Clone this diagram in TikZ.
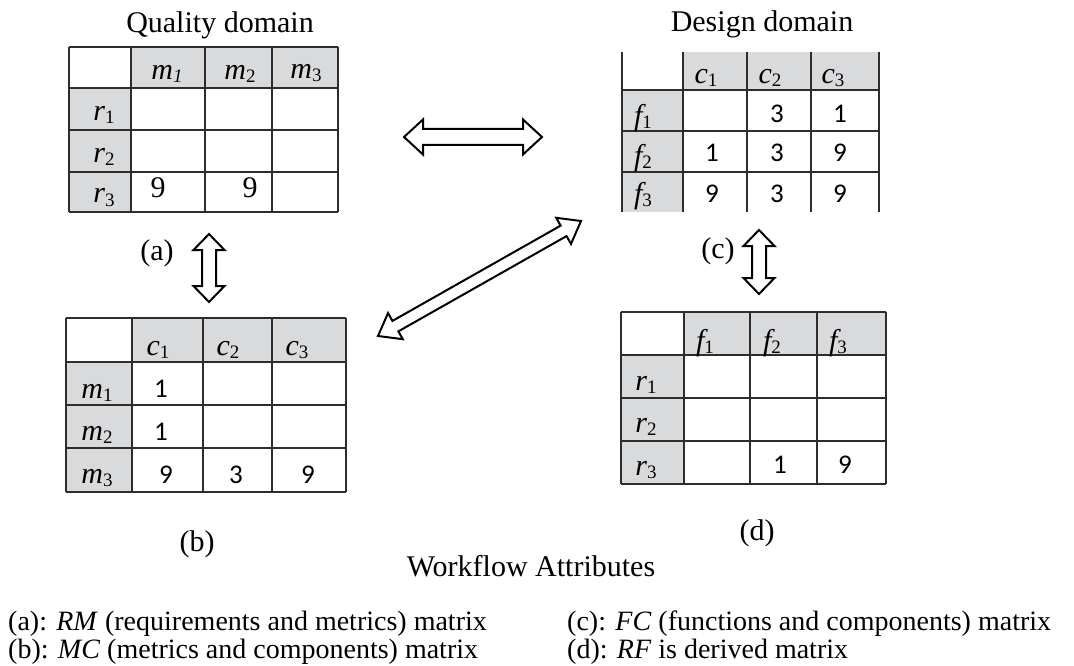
\documentclass[tikz,border=0pt]{standalone}
\usepackage{fontspec}
\setmainfont{Liberation Serif}
\newfontfamily\digitfont{Carlito}
\usetikzlibrary{calc}

\definecolor{cellgrey}{RGB}{217,218,220}
\definecolor{rulegrey}{RGB}{45,45,45}

% lowered subscript digits for the matrix labels
\newcommand\lowsub[1]{\raisebox{-3pt}{\fontsize{19}{19}\selectfont\upshape #1}}
\newcommand\lowsubit[1]{\raisebox{-3pt}{\fontsize{19}{19}\selectfont\itshape #1}}

% outlined double-headed block arrow between two named coordinates
% #1 from, #2 to, #3 head length, #4 shaft half width, #5 head half width
\newcommand\blockarrow[5]{%
  \coordinate (#1-h1) at ($(#1)!#3!(#2)$);
  \coordinate (#1-h2) at ($(#2)!#3!(#1)$);
  \draw[arrowline] (#1)
    -- ($(#1-h1)!#5!90:(#2)$) -- ($(#1-h1)!#4!90:(#2)$)
    -- ($(#1-h2)!#4!-90:(#1)$) -- ($(#1-h2)!#5!-90:(#1)$)
    -- (#2)
    -- ($(#1-h2)!#5!90:(#1)$) -- ($(#1-h2)!#4!90:(#1)$)
    -- ($(#1-h1)!#4!-90:(#2)$) -- ($(#1-h1)!#5!-90:(#2)$)
    -- cycle;}

\begin{document}
\begin{tikzpicture}[x=1pt,y=-1pt,
  rule/.style={draw=rulegrey, line width=1.4pt},
  arrowline/.style={draw=black, fill=white, line width=2pt, line join=miter},
  ttl/.style={font=\fontsize{30}{36}\selectfont, inner sep=0pt, anchor=base},
  lbl/.style={font=\fontsize{30}{36}\selectfont, inner sep=0pt},
  hdr/.style={font=\fontsize{30}{36}\selectfont\itshape, inner sep=0pt, anchor=base},
  num/.style={font=\digitfont\fontsize{27}{32}\selectfont, inner sep=0pt, anchor=base},
  snum/.style={font=\fontsize{30}{36}\selectfont, inner sep=0pt, anchor=base},
  legend/.style={font=\fontsize{28}{34}\selectfont, inner sep=0pt, anchor=base west}]
\useasboundingbox (0,0) rectangle (1074,666);

% ---------- RM matrix (quality domain) ----------
\node[ttl] (qtitle) at (220,33) {Quality domain};
\fill[cellgrey] (131,47) rectangle (338,88);
\fill[cellgrey] (69,88) rectangle (131,212);
\foreach \x in {69,131,205,272,338} \draw[rule] (\x,47) -- (\x,212);
\foreach \y in {47,88,130,172,212} \draw[rule] (69,\y) -- (338,\y);
\node[hdr] (A-m1) at (167,80) {m\lowsubit{1}};
\node[hdr] (A-m2) at (240,80) {m\lowsub{2}};
\node[hdr] (A-m3) at (306,79) {m\lowsub{3}};
\node[hdr] (A-r1) at (104,121) {r\lowsub{1}};
\node[hdr] (A-r2) at (104,163) {r\lowsub{2}};
\node[hdr] (A-r3) at (104,203) {r\lowsub{3}};
\node[snum] (A-31) at (158,197) {9};
\node[snum] (A-32) at (250,197) {9};

% ---------- FC matrix (design domain) ----------
\node[ttl] (dtitle) at (762,32) {Design domain};
\fill[cellgrey] (683,52) rectangle (879,90);
\fill[cellgrey] (622,90) rectangle (683,212);
\foreach \x in {622,683,747,811,879} \draw[rule] (\x,52) -- (\x,212);
\foreach \y in {90,131,172} \draw[rule] (622,\y) -- (879,\y);
\node[hdr] (C-c1) at (706,84) {c\lowsub{1}};
\node[hdr] (C-c2) at (770,84) {c\lowsub{2}};
\node[hdr] (C-c3) at (833,84) {c\lowsub{3}};
\node[hdr] (C-f1) at (643,126) {f\lowsub{1}};
\node[hdr] (C-f2) at (643,165) {f\lowsub{2}};
\node[hdr] (C-f3) at (643,204) {f\lowsub{3}};
\node[num] (C-12) at (777,123) {3};
\node[num] (C-13) at (840,123) {1};
\node[num] (C-21) at (712,162) {1};
\node[num] (C-22) at (777,162) {3};
\node[num] (C-23) at (840,162) {9};
\node[num] (C-31) at (712,202) {9};
\node[num] (C-32) at (777,202) {3};
\node[num] (C-33) at (840,202) {9};

% ---------- MC matrix ----------
\fill[cellgrey] (132,318) rectangle (346,362);
\fill[cellgrey] (66,362) rectangle (132,492);
\foreach \x in {66,132,203,272,346} \draw[rule] (\x,318) -- (\x,492);
\foreach \y in {318,362,405,448,492} \draw[rule] (66,\y) -- (346,\y);
\node[hdr] (B-c1) at (158,355) {c\lowsub{1}};
\node[hdr] (B-c2) at (228,355) {c\lowsub{2}};
\node[hdr] (B-c3) at (297,355) {c\lowsub{3}};
\node[hdr] (B-m1) at (97,398) {m\lowsub{1}};
\node[hdr] (B-m2) at (97,440) {m\lowsub{2}};
\node[hdr] (B-m3) at (97,483) {m\lowsub{3}};
\node[num] (B-11) at (161,397) {1};
\node[num] (B-21) at (161,440) {1};
\node[num] (B-31) at (166,483) {9};
\node[num] (B-32) at (236,483) {3};
\node[num] (B-33) at (308,483) {9};

% ---------- RF matrix ----------
\fill[cellgrey] (684,312) rectangle (886,355);
\fill[cellgrey] (621,355) rectangle (684,484);
\foreach \x in {621,684,750,817,886} \draw[rule] (\x,312) -- (\x,484);
\foreach \y in {312,355,398,441,484} \draw[rule] (621,\y) -- (886,\y);
\node[hdr] (D-f1) at (705,350) {f\lowsub{1}};
\node[hdr] (D-f2) at (772,350) {f\lowsub{2}};
\node[hdr] (D-f3) at (838,350) {f\lowsub{3}};
\node[hdr] (D-r1) at (646,390) {r\lowsub{1}};
\node[hdr] (D-r2) at (646,432) {r\lowsub{2}};
\node[hdr] (D-r3) at (646,475) {r\lowsub{3}};
\node[num] (D-32) at (780,473) {1};
\node[num] (D-33) at (845,473) {9};

% ---------- block arrows ----------
\coordinate (hL) at (404,137);
\coordinate (hR) at (542,137);
\blockarrow{hL}{hR}{19pt}{8pt}{17.5pt}
\coordinate (aT) at (209,234);
\coordinate (aB) at (209,302);
\blockarrow{aT}{aB}{16pt}{7pt}{15.5pt}
\coordinate (cT) at (759,230);
\coordinate (cB) at (759,294);
\blockarrow{cT}{cB}{16pt}{7pt}{15.5pt}
\coordinate (dL) at (378,336);
\coordinate (dR) at (581,221);
\blockarrow{dL}{dR}{20pt}{6pt}{15pt}

% ---------- labels ----------
\node[lbl] (la) at (157,253) {(a)};
\node[lbl] (lc) at (718,251) {(c)};
\node[lbl] (lb) at (197,544) {(b)};
\node[lbl] (ld) at (757,533) {(d)};
\node[ttl] (wf) at (531,576) {Workflow Attributes};

\node[legend] (ka) at (8,630) {(a): \textit{RM} (requirements and metrics) matrix};
\node[legend] (kb) at (8,658) {(b): \textit{MC} (metrics and components) matrix};
\node[legend] (kc) at (567,630) {(c): \textit{FC} (functions and components) matrix};
\node[legend] (kd) at (567,658) {(d): \textit{RF} is derived matrix};
\end{tikzpicture}
\end{document}
